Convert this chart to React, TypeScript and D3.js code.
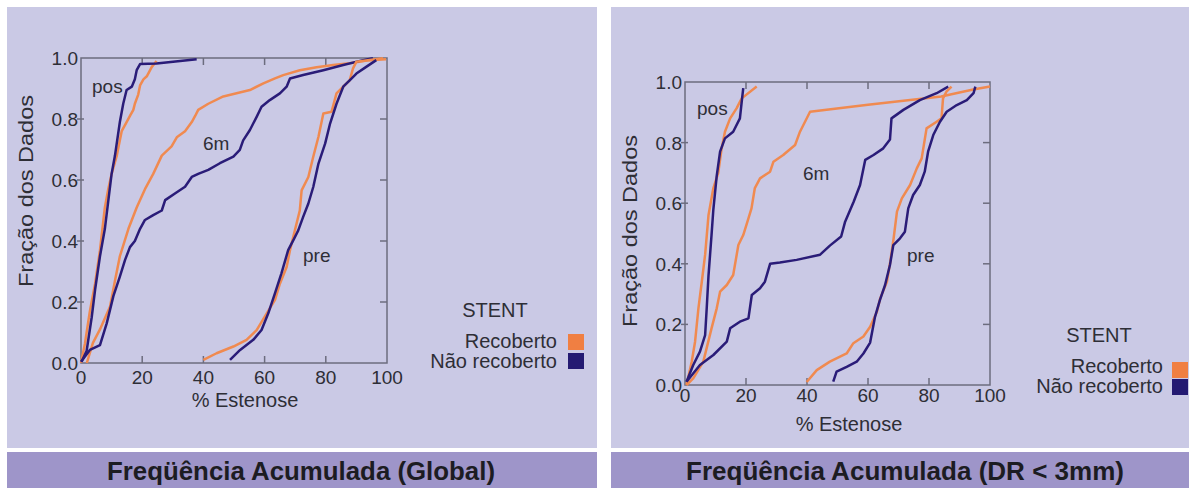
import React from "react";
import * as d3 from "d3";

type Pt = [number, number];

// ---------- DATA (value = % estenose, fraction of data) ----------
const xTicks = [0, 20, 40, 60, 80, 100];
const yTicks = [0, 0.2, 0.4, 0.6, 0.8, 1.0];
const legendItems = ["Recoberto", "Não recoberto"];
const legendTitle = "STENT";
const panelTitles = ["Freqüência Acumulada (Global)", "Freqüência Acumulada (DR < 3mm)"];

// Global panel
const gPosRec: Pt[] = [[0, 0], [1.3, 0.064], [2.9, 0.17], [4.6, 0.26], [6.2, 0.37], [7.8, 0.51], [8.9, 0.57], [10.0, 0.62], [11.7, 0.68], [12.7, 0.73], [13.3, 0.76], [14.9, 0.79], [16.0, 0.81], [17.1, 0.83], [17.6, 0.85], [18.7, 0.88], [19.3, 0.91], [20.4, 0.93], [21.5, 0.94], [23.1, 0.97], [24.7, 0.99]];
const gPosNao: Pt[] = [[0.2, 0.004], [1.85, 0.04], [3.5, 0.15], [4.6, 0.24], [6.2, 0.35], [7.8, 0.44], [8.9, 0.53], [10.0, 0.62], [11.1, 0.68], [12.7, 0.79], [13.8, 0.85], [14.9, 0.895], [16.6, 0.906], [17.6, 0.93], [18.2, 0.96], [19.3, 0.98], [24.7, 0.982], [37.8, 0.996]];
const g6mRec: Pt[] = [[1.9, 0], [3.9, 0.066], [6.2, 0.11], [9.5, 0.185], [11.1, 0.27], [12.7, 0.35], [15.5, 0.44], [18.2, 0.51], [20.9, 0.57], [23.6, 0.62], [26.4, 0.68], [29.6, 0.71], [31.3, 0.74], [34.0, 0.76], [36.2, 0.79], [37.3, 0.81], [38.3, 0.83], [41.6, 0.85], [46.5, 0.874], [55.2, 0.895], [59.6, 0.917], [63.4, 0.933], [66.1, 0.944], [71.5, 0.96], [77.0, 0.97], [82.4, 0.977], [87.8, 0.983], [94.3, 0.993], [99.7, 0.996]];
const g6mNao: Pt[] = [[0, 0.004], [2.9, 0.043], [6.2, 0.059], [8.4, 0.13], [10.6, 0.22], [12.7, 0.283], [14.4, 0.338], [16.0, 0.38], [17.6, 0.40], [19.3, 0.44], [20.9, 0.469], [23.6, 0.485], [26.4, 0.50], [27.5, 0.534], [30.7, 0.556], [34.0, 0.578], [36.2, 0.61], [38.3, 0.62], [41.6, 0.633], [45.4, 0.655], [49.8, 0.677], [51.9, 0.699], [53.0, 0.73], [55.2, 0.764], [57.4, 0.807], [59.0, 0.84], [61.7, 0.862], [65.0, 0.884], [67.2, 0.906], [68.3, 0.933], [72.6, 0.944], [79.2, 0.96], [85.7, 0.977], [92.2, 0.993], [95.4, 0.999]];
const gPreRec: Pt[] = [[40.0, 0.01], [44.3, 0.032], [49.8, 0.054], [54.1, 0.076], [57.4, 0.108], [60.7, 0.163], [63.4, 0.207], [65.0, 0.26], [67.2, 0.315], [68.3, 0.37], [69.9, 0.435], [71.5, 0.50], [72.1, 0.566], [74.3, 0.61], [75.9, 0.676], [77.6, 0.742], [79.2, 0.818], [81.9, 0.824], [83.5, 0.884], [85.7, 0.906], [87.8, 0.927], [88.9, 0.966], [90.0, 0.988], [98.7, 0.999]];
const gPreNao: Pt[] = [[48.7, 0.01], [52.0, 0.043], [56.3, 0.076], [59.0, 0.108], [61.2, 0.163], [63.4, 0.229], [65.5, 0.294], [67.7, 0.37], [69.4, 0.403], [71.0, 0.435], [72.6, 0.479], [74.3, 0.523], [75.9, 0.577], [77.6, 0.654], [79.8, 0.72], [81.4, 0.785], [83.5, 0.85], [85.7, 0.906], [87.8, 0.927], [90.0, 0.949], [93.2, 0.971], [96.5, 0.993]];

// DR < 3mm panel
const dPosRec: Pt[] = [[0.5, 0], [2.2, 0.077], [3.3, 0.143], [4.4, 0.253], [5.5, 0.34], [6.6, 0.43], [7.7, 0.56], [9.3, 0.65], [10.9, 0.70], [12.0, 0.78], [13.1, 0.836], [14.8, 0.88], [16.9, 0.913], [18.6, 0.946], [23.5, 0.985]];
const dPosNao: Pt[] = [[0.5, 0.011], [2.7, 0.066], [4.9, 0.11], [6.6, 0.165], [7.1, 0.25], [7.7, 0.36], [8.7, 0.495], [9.3, 0.58], [10.4, 0.69], [11.5, 0.77], [13.1, 0.814], [15.8, 0.836], [18.0, 0.88], [18.6, 0.935], [19.1, 0.98]];
const d6mRec: Pt[] = [[0.5, 0], [2.7, 0.022], [6.0, 0.077], [8.7, 0.187], [10.4, 0.253], [11.5, 0.308], [13.7, 0.33], [15.8, 0.363], [17.5, 0.462], [19.1, 0.495], [20.8, 0.55], [21.8, 0.583], [22.9, 0.65], [24.6, 0.682], [27.9, 0.704], [29.0, 0.737], [32.2, 0.759], [36.1, 0.792], [37.7, 0.836], [41.0, 0.902], [60.0, 0.925], [84.0, 0.952], [94.5, 0.975], [100, 0.985]];
const d6mNao: Pt[] = [[0.5, 0.011], [4.9, 0.066], [9.3, 0.099], [13.7, 0.143], [14.8, 0.187], [18.0, 0.209], [20.8, 0.22], [21.9, 0.297], [24.6, 0.319], [26.2, 0.341], [27.9, 0.40], [31.1, 0.404], [36.6, 0.413], [44.3, 0.43], [47.5, 0.46], [51.2, 0.49], [52.5, 0.539], [55.3, 0.605], [57.4, 0.66], [59.1, 0.743], [61.8, 0.759], [65.0, 0.781], [67.2, 0.81], [67.7, 0.88], [71.6, 0.908], [77.0, 0.94], [82.5, 0.963], [86.3, 0.985]];
const dPreRec: Pt[] = [[39.9, 0.01], [43.2, 0.049], [47.5, 0.077], [53.0, 0.104], [55.2, 0.138], [58.5, 0.16], [60.7, 0.192], [62.9, 0.241], [64.0, 0.286], [66.2, 0.341], [67.3, 0.407], [68.4, 0.484], [69.5, 0.572], [71.1, 0.616], [73.8, 0.66], [76.0, 0.715], [77.6, 0.748], [79.2, 0.847], [82.5, 0.869], [84.1, 0.88], [84.6, 0.946], [85.7, 0.968], [87.4, 0.985]];
const dPreNao: Pt[] = [[48.6, 0.011], [49.7, 0.044], [53.0, 0.06], [56.3, 0.077], [58.5, 0.104], [60.7, 0.14], [62.3, 0.225], [63.9, 0.28], [65.6, 0.33], [67.2, 0.396], [68.3, 0.462], [70.5, 0.484], [72.1, 0.506], [73.2, 0.583], [74.8, 0.627], [77.0, 0.66], [78.6, 0.704], [79.7, 0.77], [81.4, 0.825], [83.6, 0.869], [85.8, 0.902], [89.1, 0.924], [92.4, 0.94], [94.6, 0.963], [95.2, 0.985]];

// ---------- STYLE / LAYOUT ----------
const ORANGE = "#f08a50";
const NAVY = "#2a1c78";
const ORANGE_SW = "#f07f42";
const NAVY_SW = "#241a72";
const BG = "#cac9e5";
const BAR = "#9e95c9";
const FRAME = "#6c6c7e";
const TEXT = "#2e2e36";
const FONT = "'Liberation Sans', Arial, sans-serif";

interface PanelCfg {
  px0: number; px1: number;
  x0: number; x1: number; y0: number; y1: number;
  xLabelGap: number;
  xTitle: [number, number];
  yTitle: [number, number];
  labels: { pos: [number, number]; m6: [number, number]; pre: [number, number] };
  legend: { titleX: number; titleY: number; textX: number; row1: number; row2: number; sq: number; sqY1: number; sqY2: number };
  title: string;
  titleX: number;
  titleLen: number;
  series: { rec: Pt[]; nao: Pt[] }[];
}

const panels: PanelCfg[] = [
  {
    px0: 7, px1: 597, x0: 81, x1: 387, y0: 363, y1: 58, xLabelGap: 21,
    xTitle: [245, 407], yTitle: [33, 191],
    labels: { pos: [92, 93], m6: [203, 150], pre: [303, 262] },
    legend: { titleX: 495, titleY: 317, textX: 557, row1: 348, row2: 368, sq: 568, sqY1: 334, sqY2: 353 },
    title: panelTitles[0], titleX: 301, titleLen: 388,
    series: [{ rec: gPosRec, nao: gPosNao }, { rec: g6mRec, nao: g6mNao }, { rec: gPreRec, nao: gPreNao }],
  },
  {
    px0: 611, px1: 1189, x0: 685, x1: 990, y0: 385, y1: 82, xLabelGap: 17,
    xTitle: [849, 431], yTitle: [637, 231],
    labels: { pos: [697, 115], m6: [803, 180], pre: [907, 262] },
    legend: { titleX: 1099, titleY: 342, textX: 1163, row1: 373, row2: 393, sq: 1172, sqY1: 362, sqY2: 379 },
    title: panelTitles[1], titleX: 905, titleLen: 438,
    series: [{ rec: dPosRec, nao: dPosNao }, { rec: d6mRec, nao: d6mNao }, { rec: dPreRec, nao: dPreNao }],
  },
];

function Panel({ cfg }: { cfg: PanelCfg }) {
  const x = d3.scaleLinear().domain([0, 100]).range([cfg.x0, cfg.x1]);
  const y = d3.scaleLinear().domain([0, 1]).range([cfg.y0, cfg.y1]);
  const line = d3.line<Pt>().x((d) => x(d[0])).y((d) => y(d[1])).curve(d3.curveLinear);
  const tl = 7;
  const L = cfg.legend;
  return (
    <g>
      <rect x={cfg.px0} y={7} width={cfg.px1 - cfg.px0} height={441} fill={BG} />
      <rect x={cfg.px0} y={452} width={cfg.px1 - cfg.px0} height={36} fill={BAR} />
      <text x={cfg.titleX} y={480} textAnchor="middle" fontFamily={FONT} fontWeight="bold" fontSize={25} fill="#1c1c22"
        textLength={cfg.titleLen} lengthAdjust="spacingAndGlyphs">{cfg.title}</text>

      {/* frame */}
      <rect x={cfg.x0} y={cfg.y1} width={cfg.x1 - cfg.x0} height={cfg.y0 - cfg.y1} fill="none" stroke={FRAME} strokeWidth={1.5} />
      {xTicks.slice(1, -1).map((t) => (
        <g key={"xt" + t}>
          <line x1={x(t)} x2={x(t)} y1={cfg.y0} y2={cfg.y0 - tl} stroke={FRAME} strokeWidth={1.5} />
          <line x1={x(t)} x2={x(t)} y1={cfg.y1} y2={cfg.y1 + tl} stroke={FRAME} strokeWidth={1.5} />
        </g>
      ))}
      {yTicks.slice(1, -1).map((t) => (
        <g key={"yt" + t}>
          <line x1={cfg.x0 - 4} x2={cfg.x0 + 3} y1={y(t)} y2={y(t)} stroke={FRAME} strokeWidth={1.5} />
          <line x1={cfg.x1} x2={cfg.x1 - tl} y1={y(t)} y2={y(t)} stroke={FRAME} strokeWidth={1.5} />
        </g>
      ))}
      {xTicks.map((t) => (
        <text key={"xl" + t} x={x(t)} y={cfg.y0 + cfg.xLabelGap} textAnchor="middle" fontFamily={FONT} fontSize={19} fill={TEXT}>{t}</text>
      ))}
      {yTicks.map((t) => (
        <text key={"yl" + t} x={cfg.x0 - 3} y={y(t) + 7} textAnchor="end" fontFamily={FONT} fontSize={19} fill={TEXT}>{t.toFixed(1)}</text>
      ))}
      <text x={cfg.xTitle[0]} y={cfg.xTitle[1]} textAnchor="middle" fontFamily={FONT} fontSize={20} fill={TEXT}>% Estenose</text>
      <text transform={`translate(${cfg.yTitle[0]},${cfg.yTitle[1]}) rotate(-90)`} textAnchor="middle" fontFamily={FONT} fontSize={20} fill={TEXT}
        textLength={192} lengthAdjust="spacingAndGlyphs">Fração dos Dados</text>

      {/* curves */}
      {cfg.series.map((s, i) => (
        <g key={"s" + i}>
          <path d={line(s.rec) || ""} fill="none" stroke={ORANGE} strokeWidth={2.5} strokeLinejoin="round" />
          <path d={line(s.nao) || ""} fill="none" stroke={NAVY} strokeWidth={2.5} strokeLinejoin="round" />
        </g>
      ))}

      <text x={cfg.labels.pos[0]} y={cfg.labels.pos[1]} fontFamily={FONT} fontSize={19} fill={TEXT}>pos</text>
      <text x={cfg.labels.m6[0]} y={cfg.labels.m6[1]} fontFamily={FONT} fontSize={19} fill={TEXT}>6m</text>
      <text x={cfg.labels.pre[0]} y={cfg.labels.pre[1]} fontFamily={FONT} fontSize={19} fill={TEXT}>pre</text>

      {/* legend */}
      <text x={L.titleX} y={L.titleY} textAnchor="middle" fontFamily={FONT} fontSize={20} fill={TEXT}>{legendTitle}</text>
      <text x={L.textX} y={L.row1} textAnchor="end" fontFamily={FONT} fontSize={20} fill={TEXT}>{legendItems[0]}</text>
      <text x={L.textX} y={L.row2} textAnchor="end" fontFamily={FONT} fontSize={20} fill={TEXT}>{legendItems[1]}</text>
      <rect x={L.sq} y={L.sqY1} width={16} height={16} fill={ORANGE_SW} />
      <rect x={L.sq} y={L.sqY2} width={16} height={16} fill={NAVY_SW} />
    </g>
  );
}

export default function App() {
  return (
    <svg width={1189} height={488} style={{ position: "absolute", left: 0, top: 0, background: "#ffffff" }}>
      {panels.map((p, i) => (
        <Panel key={i} cfg={p} />
      ))}
    </svg>
  );
}
